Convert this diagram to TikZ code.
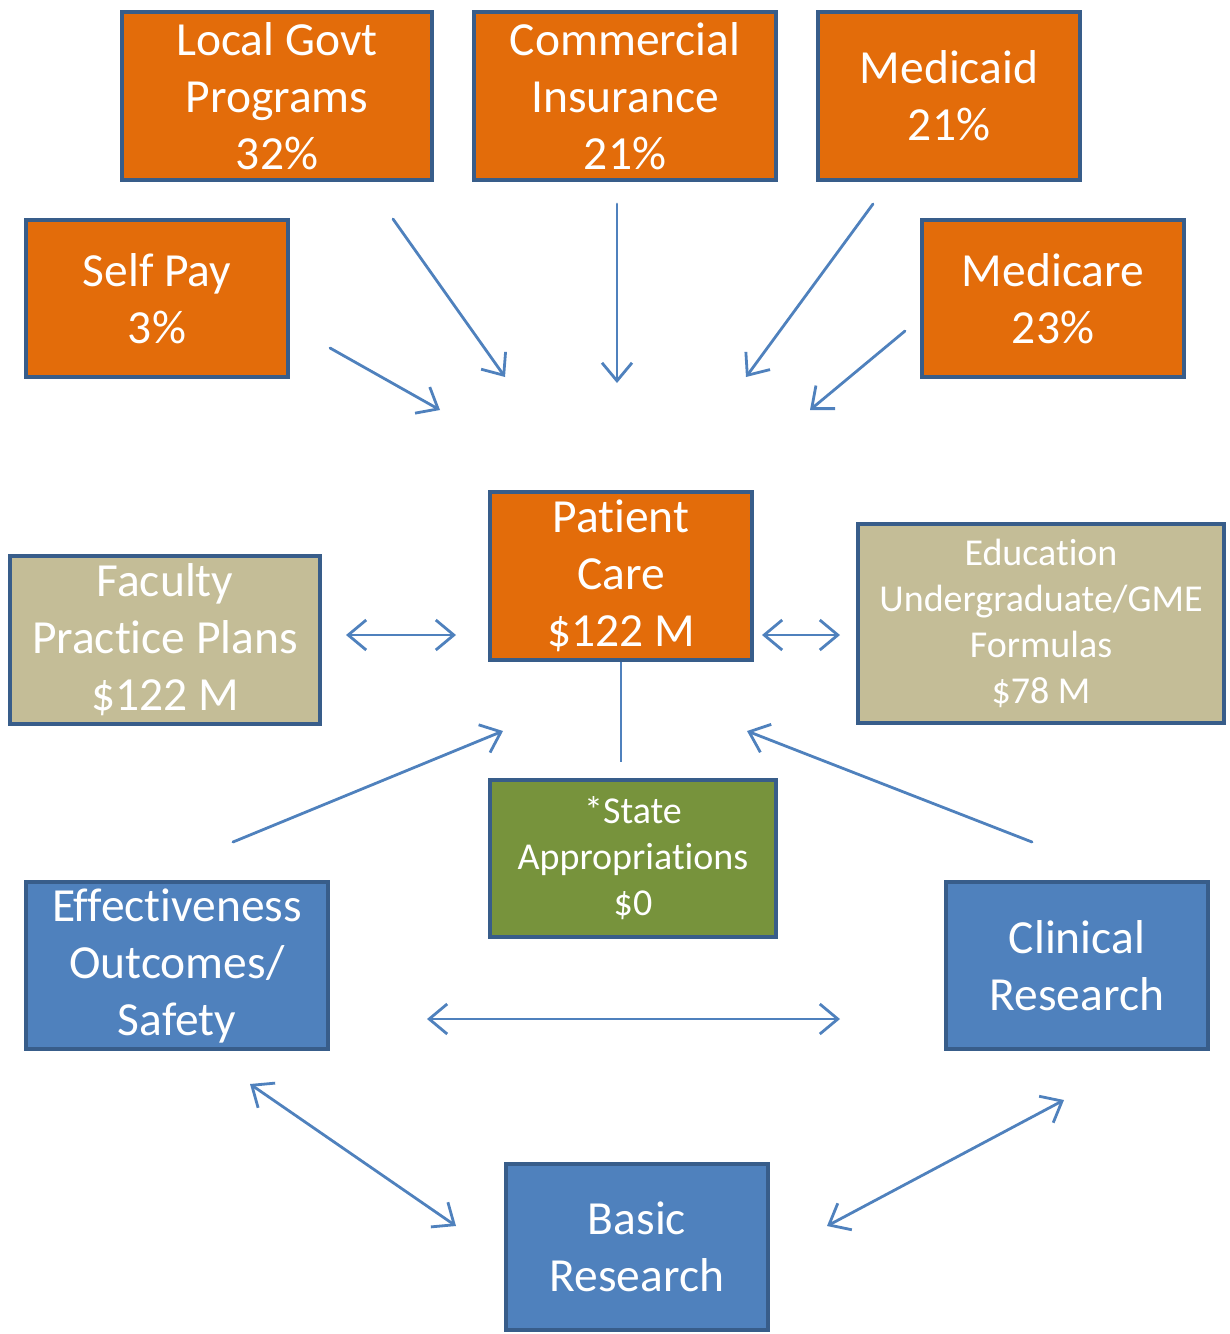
\documentclass[tikz,border=0pt]{standalone}
\usepackage{fontspec}
\setmainfont{Carlito}[Ligatures=NoCommon]
\usetikzlibrary{arrows.meta}
\definecolor{fundorange}{RGB}{227,108,10}
\definecolor{fundtan}{RGB}{196,189,151}
\definecolor{fundgreen}{RGB}{119,147,60}
\definecolor{fundblue}{RGB}{79,129,189}
\definecolor{fundedge}{RGB}{56,93,138}
\tikzset{
  fundbox/.style={draw=fundedge, line width=2.25pt, text=white, align=center, inner sep=0pt,
    font=\fontsize{23.75pt}{28.5pt}\selectfont},
  smalltext/.style={font=\fontsize{19pt}{23pt}\selectfont},
  flow/.style={draw=fundblue, line width=1.4pt, line cap=round,
    -{Straight Barb[length=9pt,width=15pt,line width=1.4pt]}},
  twoway/.style={flow, {Straight Barb[length=9pt,width=15pt,line width=1.4pt]}-{Straight Barb[length=9pt,width=15pt,line width=1.4pt]}}
}
\begin{document}
\begin{tikzpicture}[x=0.5pt, y=-0.5pt]
    \useasboundingbox (0,0) rectangle (1230,1334);
    \node[fundbox, fill=fundorange, minimum width=155pt, minimum height=84pt] (govt) at (277,96) {Local Govt\\Programs\\32\%};
    \node[fundbox, fill=fundorange, minimum width=151pt, minimum height=84pt] (comm) at (625,96) {Commercial\\Insurance\\21\%};
    \node[fundbox, fill=fundorange, minimum width=131pt, minimum height=84pt] (medicaid) at (949,96) {Medicaid\\21\%};
    \node[fundbox, fill=fundorange, minimum width=131pt, minimum height=78.5pt] (selfpay) at (157,298.5) {Self Pay\\3\%};
    \node[fundbox, fill=fundorange, minimum width=131pt, minimum height=78.5pt] (medicare) at (1053,298.5) {Medicare\\23\%};
    \node[fundbox, fill=fundorange, minimum width=131pt, minimum height=84pt] (patient) at (621,576) {Patient\\Care\\\$122 M};
    \node[fundbox, fill=fundtan, minimum width=155pt, minimum height=84pt] (faculty) at (165,640) {Faculty\\Practice Plans\\\$122 M};
    \node[fundbox, smalltext, fill=fundtan, minimum width=183pt, minimum height=99.5pt] (edu) at (1041,623.5) {Education\\Undergraduate/GME\\Formulas\\\$78 M};
    \node[fundbox, smalltext, fill=fundgreen, minimum width=143pt, minimum height=78.5pt] (state) at (633,858.5) {*State\\Appropriations\\\$0};
    \node[fundbox, fill=fundblue, minimum width=151pt, minimum height=83.5pt] (effect) at (177,965.5) {Effectiveness\\Outcomes/\\Safety};
    \node[fundbox, fill=fundblue, minimum width=131pt, minimum height=83.5pt] (clinical) at (1077,965.5) {Clinical\\Research};
    \node[fundbox, fill=fundblue, minimum width=131pt, minimum height=83pt] (basic) at (637,1247) {Basic\\Research};

    \coordinate (govt-out) at (393,219);   \coordinate (govt-in) at (505,377);
    \coordinate (comm-out) at (617,204);   \coordinate (comm-in) at (617,383);
    \coordinate (medicaid-out) at (873,204); \coordinate (medicaid-in) at (746,377);
    \coordinate (selfpay-out) at (330,348); \coordinate (selfpay-in) at (440,410);
    \coordinate (medicare-out) at (905,331); \coordinate (medicare-in) at (810,410);
    \coordinate (faculty-end) at (346,635); \coordinate (pc-left) at (456,635);
    \coordinate (pc-right) at (762,635);   \coordinate (edu-end) at (840,635);
    \coordinate (state-top) at (621,762);
    \coordinate (effect-out) at (233,842); \coordinate (pc-lowleft) at (503,731);
    \coordinate (clinical-out) at (1032,842); \coordinate (pc-lowright) at (747,731);
    \coordinate (effect-end) at (427,1019); \coordinate (clinical-end) at (840,1019);
    \coordinate (effect-low) at (250,1084); \coordinate (basic-left) at (456,1226);
    \coordinate (clinical-low) at (1064,1100); \coordinate (basic-right) at (827,1226);

    \draw[flow] (govt-out) -- (govt-in);
    \draw[flow] (comm-out) -- (comm-in);
    \draw[flow] (medicaid-out) -- (medicaid-in);
    \draw[flow] (selfpay-out) -- (selfpay-in);
    \draw[flow] (medicare-out) -- (medicare-in);
    \draw[twoway] (faculty-end) -- (pc-left);
    \draw[twoway] (pc-right) -- (edu-end);
    \draw[draw=fundblue, line width=1.4pt] (patient.south) -- (state-top);
    \draw[flow] (effect-out) -- (pc-lowleft);
    \draw[flow] (clinical-out) -- (pc-lowright);
    \draw[twoway] (effect-end) -- (clinical-end);
    \draw[twoway] (effect-low) -- (basic-left);
    \draw[twoway] (clinical-low) -- (basic-right);
\end{tikzpicture}
\end{document}
